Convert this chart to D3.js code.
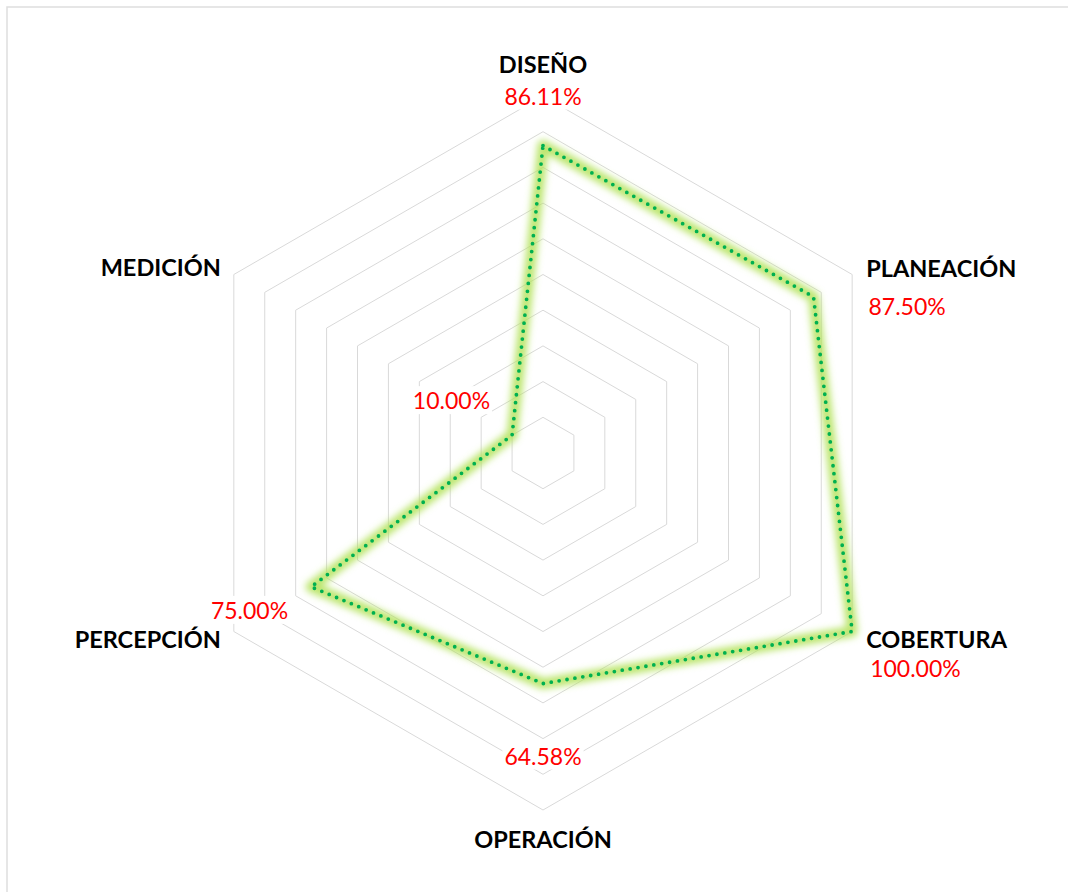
<!DOCTYPE html>
<html>
<head>
<meta charset="utf-8">
<script src="https://cdn.jsdelivr.net/npm/d3@7.9.0/dist/d3.min.js"></script>
<style>
  html, body { margin: 0; padding: 0; background: #fff; }
  svg { display: block; }
  .name { font-family: Lato, sans-serif; font-weight: 700; font-size: 23.5px; fill: #000; }
  .val { font-family: Lato, sans-serif; font-weight: 400; font-size: 23px; fill: #ff0000; }
</style>
</head>
<body>
<svg id="chart" width="1068" height="892"></svg>
<script>
// data
const axes = ['DISEÑO', 'PLANEACIÓN', 'COBERTURA', 'OPERACIÓN', 'PERCEPCIÓN', 'MEDICIÓN'];
const values = [86.11, 87.50, 100.00, 64.58, 75.00, 10.00];
const ringTicks = d3.range(10, 101, 10);

// label layout: [anchor, dx, dy] relative to outer vertex (names) / data point (values)
const namePos = [
  ['middle', 0, -23], ['start', 14, 2], ['start', 14, 16],
  ['middle', 0, 38], ['end', -13, 16], ['end', -13, 1]
];
const valuePos = [
  ['middle', 0, -41], ['start', 55, 18], ['start', 18, 45],
  ['middle', 0, 81], ['end', -23, 32], ['end', -22, -26]
];

const width = 1068, height = 892;
const cx = 543, cy = 453, R = 357;

const svg = d3.select('#chart');

// frame
svg.append('rect')
  .attr('x', 7).attr('y', 7)
  .attr('width', width).attr('height', height)
  .attr('fill', 'none')
  .attr('stroke', '#dedede')
  .attr('stroke-width', 1.5);

const r = d3.scaleLinear().domain([0, 100]).range([0, R]);
const angle = (i) => -Math.PI / 2 + i * 2 * Math.PI / axes.length;
const pt = (i, v) => [cx + r(v) * Math.cos(angle(i)), cy + r(v) * Math.sin(angle(i))];

const g = svg.append('g');

// rings
const ringLine = d3.line();
ringTicks.forEach((t) => {
  g.append('path')
    .attr('d', ringLine(axes.map((_, i) => pt(i, t))) + 'Z')
    .attr('fill', 'none')
    .attr('stroke', '#d9d9d9')
    .attr('stroke-width', 1);
});

// glow filter
const defs = svg.append('defs');
defs.append('filter')
  .attr('id', 'glow')
  .attr('x', '-20%').attr('y', '-20%').attr('width', '140%').attr('height', '140%')
  .append('feGaussianBlur')
  .attr('stdDeviation', 3.5);

const seriesLine = d3.line().curve(d3.curveLinearClosed);
const pts = values.map((v, i) => pt(i, v));

g.append('path')
  .attr('d', seriesLine(pts))
  .attr('fill', 'none')
  .attr('stroke', '#b0e255')
  .attr('stroke-opacity', 0.85)
  .attr('stroke-width', 11)
  .attr('stroke-linejoin', 'round')
  .attr('filter', 'url(#glow)');

g.append('path')
  .attr('d', seriesLine(pts))
  .attr('fill', 'none')
  .attr('stroke', '#00b050')
  .attr('stroke-width', 3.8)
  .attr('stroke-linecap', 'round')
  .attr('stroke-dasharray', '0 8');

// axis names
axes.forEach((name, i) => {
  const [x, y] = pt(i, 100);
  const p = namePos[i];
  g.append('text')
    .attr('class', 'name')
    .attr('x', x + p[1]).attr('y', y + p[2])
    .attr('text-anchor', p[0])
    .text(name);
});

// value labels with white background
values.forEach((v, i) => {
  const [x, y] = pts[i];
  const p = valuePos[i];
  const lg = g.append('g');
  const t = lg.append('text')
    .attr('class', 'val')
    .attr('x', x + p[1]).attr('y', y + p[2])
    .attr('text-anchor', p[0])
    .text(v.toFixed(2) + '%');
  const bb = t.node().getBBox();
  lg.insert('rect', 'text')
    .attr('x', bb.x - 2).attr('y', bb.y)
    .attr('width', bb.width + 4).attr('height', bb.height)
    .attr('fill', '#fff');
});
</script>
</body>
</html>
